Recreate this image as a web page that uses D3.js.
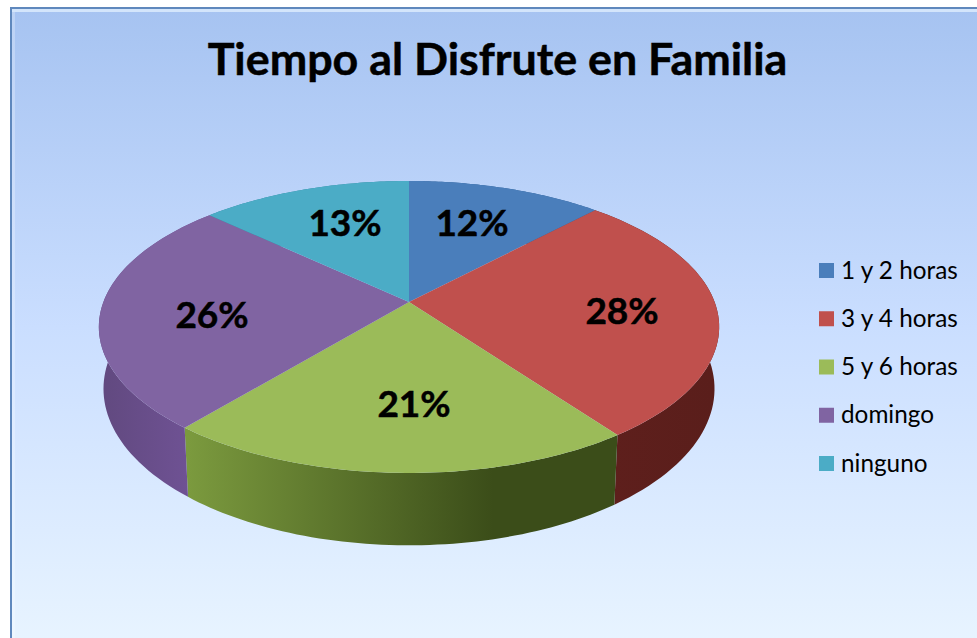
<!DOCTYPE html>
<html>
<head>
<meta charset="utf-8">
<script src="https://cdn.jsdelivr.net/npm/d3@7"></script>
<style>
  html, body { margin: 0; padding: 0; background: #fff; }
  svg { display: block; }
  text { font-family: Lato, "Open Sans", sans-serif; fill: #000; }
</style>
</head>
<body>
<svg id="chart"></svg>
<script>
const categories = ["1 y 2 horas", "3 y 4 horas", "5 y 6 horas", "domingo", "ninguno"];
const values = [12, 28, 21, 26, 13];
const topColors = ["#4a7ebb", "#c0504d", "#9bbb59", "#8064a2", "#4bacc6"];
const title = "Tiempo al Disfrute en Familia";

const width = 977;
const height = 638;

const svg = d3.select("#chart").attr("width", width).attr("height", height);
const defs = svg.append("defs");

// chart background
const bg = defs.append("linearGradient").attr("id", "bg")
  .attr("x1", 0).attr("y1", 0).attr("x2", 0).attr("y2", 1);
bg.append("stop").attr("offset", "0%").attr("stop-color", "#a6c3f1");
bg.append("stop").attr("offset", "50%").attr("stop-color", "#cadeff");
bg.append("stop").attr("offset", "100%").attr("stop-color", "#e8f4ff");

svg.append("rect")
  .attr("x", 11).attr("y", 8)
  .attr("width", width).attr("height", height)
  .attr("fill", "url(#bg)")
  .attr("stroke", "#5f88bd")
  .attr("stroke-width", 2);

// bevel highlight inside the frame
svg.append("rect")
  .attr("x", 12).attr("y", 9)
  .attr("width", width).attr("height", 3)
  .attr("fill", "#d3e5fb");
svg.append("rect")
  .attr("x", 12).attr("y", 12)
  .attr("width", 3).attr("height", height)
  .attr("fill", "#ffffff")
  .attr("opacity", 0.25);

svg.append("text")
  .attr("x", 497.5).attr("y", 75)
  .attr("text-anchor", "middle")
  .attr("font-size", 44.8)
  .attr("font-weight", 700)
  .attr("stroke", "#000")
  .attr("stroke-width", 0.5)
  .text(title);

// tilted disc: unit circle -> screen, with some perspective
const cx = 409, cy = 302;
const radius = 305.6, tilt = 141.7, persp = 0.171, depth = 60, shrink = 0.985;

function project(angle, r) {
  const x = Math.sin(angle) * r, y = -Math.cos(angle) * r;
  const w = 1 - persp * y;
  return [cx + radius * x / w, cy + tilt * y / w];
}

function projectBottom(angle) {
  const y = -Math.cos(angle);
  const p = project(angle, 1);
  return [cx + (p[0] - cx) * shrink, p[1] + depth / (1 - persp * y)];
}

const pie = d3.pie().sort(null).value(d => d);
const slices = pie(values);
const line = d3.line();

const rim = s => d3.range(0, 61).map(i => s.startAngle + (s.endAngle - s.startAngle) * i / 60);

// side wall shading runs left to right, darker on the right
const sideGradients = [
  { id: "side0", from: "#2f5f96", to: "#2f5f96" },
  { id: "side1", from: "#5e1f1c", to: "#5a1e1b" },
  { id: "side2", from: "#7b9a3e", to: "#3b4d19" },
  { id: "side3", from: "#61497f", to: "#6f5294" },
  { id: "side4", from: "#30869c", to: "#30869c" }
];
const sideX = [[620, 720], [610, 715], [188, 612], [100, 190], [200, 400]];
sideGradients.forEach((g, i) => {
  const lg = defs.append("linearGradient").attr("id", g.id)
    .attr("gradientUnits", "userSpaceOnUse")
    .attr("x1", sideX[i][0]).attr("x2", sideX[i][1]).attr("y1", 0).attr("y2", 0);
  lg.append("stop").attr("offset", "0%").attr("stop-color", g.from);
  lg.append("stop").attr("offset", i === 2 ? "72%" : "100%").attr("stop-color", g.to);
});

// walls first, the top faces cover the hidden parts
svg.append("g").selectAll("path").data(slices).join("path")
  .attr("d", s => {
    const a = rim(s);
    return line(a.map(t => project(t, 1)).concat(a.slice().reverse().map(projectBottom))) + "Z";
  })
  .attr("fill", (s, i) => `url(#side${i})`);

svg.append("g").selectAll("path").data(slices).join("path")
  .attr("d", s => line([[cx, cy]].concat(rim(s).map(t => project(t, 1)))) + "Z")
  .attr("fill", (s, i) => topColors[i]);

// percent labels
const labelPos = [[472, 223], [622, 311], [414, 404], [212, 315], [345, 223]];
svg.append("g").selectAll("text").data(values).join("text")
  .attr("x", (d, i) => labelPos[i][0])
  .attr("y", (d, i) => labelPos[i][1] + 13)
  .attr("text-anchor", "middle")
  .attr("font-size", 37)
  .attr("font-weight", 700)
  .attr("stroke", "#000")
  .attr("stroke-width", 0.5)
  .text(d => d + "%");

// legend
const legendY = d3.scalePoint().domain(categories).range([270.5, 463.5]);
const legend = svg.append("g").selectAll("g").data(categories).join("g")
  .attr("transform", d => `translate(819,${legendY(d)})`);
legend.append("rect")
  .attr("y", -7.5).attr("width", 15).attr("height", 15)
  .attr("fill", (d, i) => topColors[i]);
legend.append("text")
  .attr("x", 22).attr("y", 8)
  .attr("font-size", 24.3)
  .text(d => d);
</script>
</body>
</html>
